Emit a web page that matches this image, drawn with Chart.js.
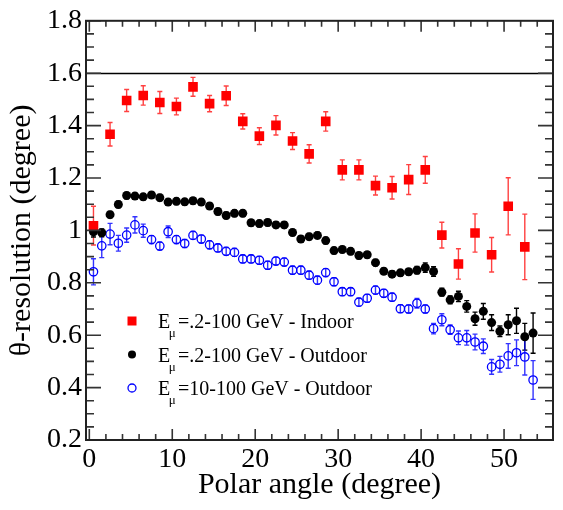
<!DOCTYPE html>
<html>
<head>
<meta charset="utf-8">
<script src="https://cdn.jsdelivr.net/npm/chart.js@4.4.0/dist/chart.umd.min.js"></script>
<style>
  body { margin: 0; background: #fff; }
  canvas { display: block; }
</style>
</head>
<body>
<canvas id="chart" width="563" height="510"></canvas>
<script>
const serif = "'Liberation Serif', 'Times New Roman', serif";

// Indoor, E = .2-100 GeV (2 degree bins)
const angleIndoor = [0.5, 2.5, 4.5, 6.5, 8.5, 10.5, 12.5, 14.5, 16.5, 18.5, 20.5, 22.5, 24.5, 26.5,
  28.5, 30.5, 32.5, 34.5, 36.5, 38.5, 40.5, 42.5, 44.5, 46.5, 48.5, 50.5, 52.5];
const resIndoor = [1.018, 1.367, 1.496, 1.515, 1.488, 1.473, 1.548, 1.484, 1.514, 1.416, 1.360, 1.401, 1.341, 1.292,
  1.416, 1.231, 1.231, 1.171, 1.163, 1.194, 1.231, 0.982, 0.872, 0.990, 0.907, 1.092, 0.937];
const errIndoor = [0.074, 0.045, 0.042, 0.037, 0.042, 0.032, 0.036, 0.031, 0.037, 0.029, 0.032, 0.037, 0.032, 0.035,
  0.037, 0.038, 0.038, 0.036, 0.043, 0.057, 0.051, 0.049, 0.058, 0.073, 0.066, 0.109, 0.125];

// Outdoor (1 degree bins)
const angleOutdoor = [0.5, 1.5, 2.5, 3.5, 4.5, 5.5, 6.5, 7.5, 8.5, 9.5, 10.5, 11.5, 12.5, 13.5, 14.5, 15.5, 16.5, 17.5,
  18.5, 19.5, 20.5, 21.5, 22.5, 23.5, 24.5, 25.5, 26.5, 27.5, 28.5, 29.5, 30.5, 31.5, 32.5, 33.5, 34.5, 35.5,
  36.5, 37.5, 38.5, 39.5, 40.5, 41.5, 42.5, 43.5, 44.5, 45.5, 46.5, 47.5, 48.5, 49.5, 50.5, 51.5, 52.5, 53.5];
const resAll = [0.995, 0.991, 1.060, 1.099, 1.133, 1.131, 1.128, 1.135, 1.125, 1.108, 1.111, 1.109, 1.113, 1.108, 1.093, 1.072, 1.057, 1.065,
  1.065, 1.029, 1.026, 1.030, 1.021, 1.021, 0.992, 0.967, 0.976, 0.981, 0.961, 0.923, 0.927, 0.920, 0.904, 0.907, 0.877, 0.844,
  0.833, 0.838, 0.842, 0.848, 0.858, 0.843, 0.764, 0.735, 0.748, 0.710, 0.663, 0.691, 0.648, 0.615, 0.640, 0.655, 0.594, 0.608];
const errAll = [0.02, 0.015, 0.012, 0.012, 0.012, 0.012, 0.012, 0.012, 0.012, 0.012, 0.012, 0.012, 0.012, 0.012, 0.012, 0.012, 0.012, 0.012,
  0.012, 0.012, 0.012, 0.012, 0.012, 0.012, 0.012, 0.012, 0.012, 0.012, 0.012, 0.012, 0.012, 0.012, 0.012, 0.012, 0.012, 0.012,
  0.012, 0.012, 0.012, 0.014, 0.018, 0.018, 0.015, 0.015, 0.02, 0.022, 0.025, 0.03, 0.03, 0.02, 0.038, 0.048, 0.051, 0.077];
const resHigh = [0.842, 0.941, 0.986, 0.951, 0.982, 1.021, 0.999, 0.965, 0.940, 0.995, 0.965, 0.950, 0.981, 0.967, 0.945, 0.933, 0.920, 0.916,
  0.891, 0.891, 0.886, 0.867, 0.883, 0.879, 0.848, 0.848, 0.829, 0.810, 0.839, 0.804, 0.766, 0.766, 0.726, 0.741, 0.772, 0.760,
  0.745, 0.701, 0.700, 0.722, 0.700, 0.625, 0.659, 0.621, 0.590, 0.590, 0.574, 0.558, 0.479, 0.489, 0.521, 0.533, 0.517, 0.429];
const errHigh = [0.05, 0.045, 0.041, 0.03, 0.027, 0.031, 0.025, 0.015, 0.015, 0.022, 0.015, 0.015, 0.015, 0.015, 0.015, 0.015, 0.015, 0.015,
  0.015, 0.015, 0.015, 0.015, 0.015, 0.015, 0.015, 0.015, 0.015, 0.015, 0.015, 0.015, 0.015, 0.015, 0.015, 0.015, 0.015, 0.015,
  0.015, 0.015, 0.015, 0.018, 0.015, 0.02, 0.023, 0.018, 0.026, 0.028, 0.03, 0.028, 0.028, 0.03, 0.047, 0.049, 0.069, 0.074];

const xTicks = [0, 10, 20, 30, 40, 50];
const yTicks = [0.2, 0.4, 0.6, 0.8, 1, 1.2, 1.4, 1.6, 1.8];
const refLevel = 1.6;

const legendSub = ['μ', 'μ', 'μ'];
const legendRest = ['=.2-100 GeV - Indoor', '=.2-100 GeV - Outdoor', '=10-100 GeV - Outdoor'];

const toPoints = (xs, ys) => xs.map((v, i) => ({ x: v, y: ys[i] }));

// error bars behind the markers
const errorBars = {
  id: 'errorBars',
  beforeDatasetsDraw(chart) {
    const { ctx, scales: { x, y } } = chart;
    chart.data.datasets.forEach(ds => {
      ctx.save();
      ctx.strokeStyle = ds.errorColor;
      ctx.lineWidth = 1.4;
      ds.data.forEach((pt, j) => {
        const px = x.getPixelForValue(pt.x);
        const top = y.getPixelForValue(pt.y + ds.errors[j]);
        const bot = y.getPixelForValue(pt.y - ds.errors[j]);
        ctx.beginPath();
        ctx.moveTo(px, top); ctx.lineTo(px, bot);
        ctx.moveTo(px - 2.5, top); ctx.lineTo(px + 2.5, top);
        ctx.moveTo(px - 2.5, bot); ctx.lineTo(px + 2.5, bot);
        ctx.stroke();
      });
      ctx.restore();
    });
  }
};

// ROOT style frame: box, inner ticks on all sides, line at 1.6
const frame = {
  id: 'frame',
  afterDatasetsDraw(chart) {
    const { ctx, chartArea: a, scales: { x, y } } = chart;
    ctx.save();
    ctx.strokeStyle = '#000';
    ctx.lineWidth = 1.5;
    ctx.beginPath();
    const yr = Math.round(y.getPixelForValue(refLevel)) + 0.5;
    ctx.moveTo(a.left, yr); ctx.lineTo(a.right, yr);
    ctx.stroke();

    ctx.strokeStyle = '#333';
    ctx.lineWidth = 1.6;
    ctx.beginPath();
    for (let v = 0; v <= 55; v += 2) {
      const px = x.getPixelForValue(v);
      const len = v % 10 === 0 ? 11 : 6;
      ctx.moveTo(px, a.bottom); ctx.lineTo(px, a.bottom - len);
      ctx.moveTo(px, a.top); ctx.lineTo(px, a.top + len);
    }
    for (let k = 4; k <= 36; k++) {
      const py = y.getPixelForValue(k * 0.05);
      const len = k % 4 === 0 ? 15 : 8;
      ctx.moveTo(a.left, py); ctx.lineTo(a.left + len, py);
      ctx.moveTo(a.right, py); ctx.lineTo(a.right - len, py);
    }
    ctx.stroke();

    ctx.lineWidth = 2;
    ctx.strokeStyle = '#222';
    ctx.strokeRect(a.left, a.top, a.right - a.left, a.bottom - a.top);
    ctx.restore();
  }
};

// legend with subscript mu
const subLegend = {
  id: 'subLegend',
  afterDraw(chart) {
    const { ctx } = chart;
    const ds = chart.data.datasets;
    ctx.save();
    ctx.textBaseline = 'alphabetic';
    ctx.fillStyle = '#000';
    ds.forEach((d, i) => {
      const base = 328 + i * 33.5;
      const mx = 132, my = base - 7;
      ctx.save();
      if (d.pointStyle === 'rect') {
        ctx.fillStyle = d.backgroundColor;
        ctx.fillRect(mx - 4.5, my - 4.5, 9, 9);
      } else {
        ctx.beginPath();
        ctx.arc(mx, my, 4, 0, Math.PI * 2);
        if (d.backgroundColor !== 'transparent') {
          ctx.fillStyle = d.backgroundColor;
          ctx.fill();
        } else {
          ctx.strokeStyle = d.borderColor;
          ctx.lineWidth = 1.3;
          ctx.stroke();
        }
      }
      ctx.restore();
      ctx.font = '20px ' + serif;
      ctx.fillText('E', 158, base);
      const w = ctx.measureText('E').width;
      ctx.font = '13px ' + serif;
      ctx.fillText(legendSub[i], 158 + w - 1.5, base + 9);
      ctx.font = '20px ' + serif;
      ctx.fillText(legendRest[i], 178, base);
    });
    ctx.restore();
  }
};

new Chart(document.getElementById('chart'), {
  type: 'scatter',
  data: {
    datasets: [
      {
        label: 'Indoor',
        data: toPoints(angleIndoor, resIndoor),
        errors: errIndoor,
        errorColor: 'rgba(255,0,0,0.75)',
        pointStyle: 'rect',
        pointRadius: 6.8,
        backgroundColor: '#ff0000',
        borderWidth: 0
      },
      {
        label: 'Outdoor',
        data: toPoints(angleOutdoor, resAll),
        errors: errAll,
        errorColor: '#000',
        pointStyle: 'circle',
        pointRadius: 4.5,
        backgroundColor: '#000',
        borderWidth: 0
      },
      {
        label: 'Outdoor high',
        data: toPoints(angleOutdoor, resHigh),
        errors: errHigh,
        errorColor: 'rgba(0,0,255,0.8)',
        pointStyle: 'circle',
        pointRadius: 4.2,
        backgroundColor: 'transparent',
        borderColor: '#0000ff',
        borderWidth: 1.3
      }
    ]
  },
  options: {
    responsive: false,
    animation: false,
    layout: { padding: { top: 16, right: 10, left: 0, bottom: 0 } },
    plugins: { legend: { display: false }, tooltip: { enabled: false } },
    scales: {
      x: {
        type: 'linear',
        min: -0.4,
        max: 55.9,
        afterBuildTicks: s => { s.ticks = xTicks.map(v => ({ value: v })); },
        afterFit: s => { s.height = 70; },
        grid: { display: false, drawTicks: false },
        border: { display: false },
        ticks: {
          padding: 3,
          color: '#000',
          font: { family: serif, size: 28 },
          callback: v => String(v)
        },
        title: {
          display: true,
          text: 'Polar angle (degree)',
          color: '#000',
          font: { family: serif, size: 30 },
          padding: { top: 0, bottom: 7 }
        }
      },
      y: {
        min: 0.2,
        max: 1.8,
        afterBuildTicks: s => { s.ticks = yTicks.map(v => ({ value: v })); },
        afterFit: s => { s.width = 86; },
        grid: { display: false, drawTicks: false },
        border: { display: false },
        ticks: {
          padding: 4,
          color: '#000',
          font: { family: serif, size: 28 },
          callback: v => String(+v.toFixed(1))
        },
        title: {
          display: true,
          text: 'θ-resolution (degree)',
          color: '#000',
          font: { family: serif, size: 30 },
          padding: { top: 4, bottom: 0 }
        }
      }
    }
  },
  plugins: [errorBars, frame, subLegend]
});
</script>
</body>
</html>
